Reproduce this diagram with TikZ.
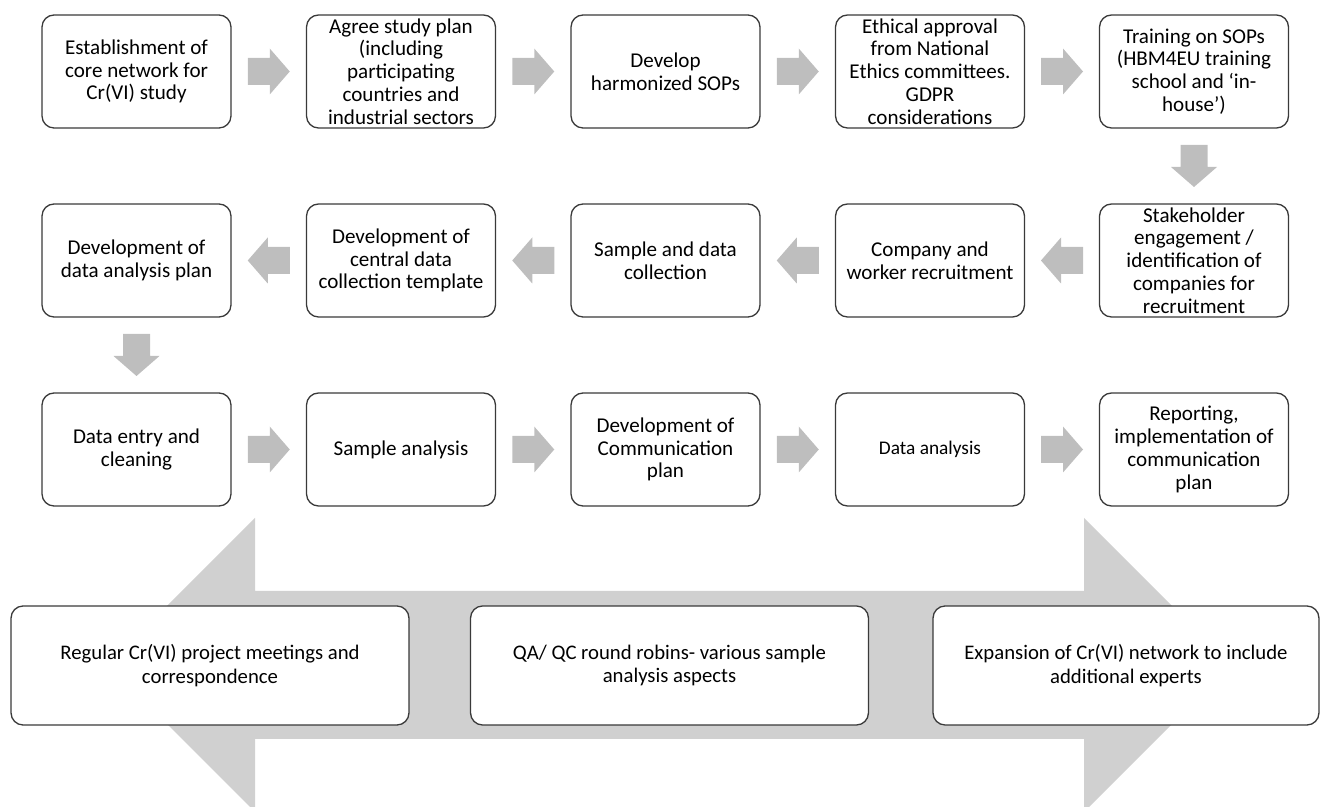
\documentclass[tikz,border=0pt]{standalone}
\usepackage{fontspec}
\setmainfont{Carlito}
\usepackage{tikz}
\usetikzlibrary{calc}
\definecolor{arrowgray}{HTML}{BEBEBE}
\definecolor{bandgray}{HTML}{D0D0D0}
\definecolor{edgegray}{HTML}{3A3A3A}

\tikzset{
    stepbox/.style={draw=edgegray, line width=0.75pt, fill=white, rounded corners=0.24cm,
        minimum width=3.78cm, minimum height=2.26cm, inner sep=0pt, align=center,
        font=\fontsize{12}{13}\selectfont},
    supportbox/.style={stepbox, minimum width=7.96cm, minimum height=2.38cm,
        font=\fontsize{11.8}{13.2}\selectfont},
    blockarrow/.pic={
        \fill[arrowgray] (-21,-13.5) -- (1,-13.5) -- (1,-23) -- (21,0) -- (1,23) -- (1,13.5) -- (-21,13.5) -- cycle;
    }
}

\begin{document}
\begin{tikzpicture}[x=0.02cm, y=-0.02cm]

    \useasboundingbox (0,0) rectangle (1320,807);

    \fill[bandgray] (108,665) -- (255,518) -- (255,591) -- (1084,591) -- (1084,518) -- (1231,665)
        -- (1084,812) -- (1084,739) -- (255,739) -- (255,812) -- cycle;

    \node[stepbox] (s1) at (136.5,71.5) {Establishment of\\core network for\\Cr(VI) study};
    \node[stepbox] (s2) at (401,71.5) {Agree study plan\\(including\\participating\\countries and\\industrial sectors};
    \node[stepbox] (s3) at (665.5,71.5) {Develop\\harmonized SOPs};
    \node[stepbox] (s4) at (930,71.5) {Ethical approval\\from National\\Ethics committees.\\GDPR\\considerations};
    \node[stepbox] (s5) at (1194,71.5) {Training on SOPs\\(HBM4EU training\\school and ‘in-\\house’)};

    \node[stepbox] (s6) at (1194,260.5) {Stakeholder\\engagement /\\identification of\\companies for\\recruitment};
    \node[stepbox] (s7) at (930,260.5) {Company and\\worker recruitment};
    \node[stepbox] (s8) at (665.5,260.5) {Sample and data\\collection};
    \node[stepbox] (s9) at (401,260.5) {Development of\\central data\\collection template};
    \node[stepbox] (s10) at (136.5,260.5) {Development of\\data analysis plan};

    \node[stepbox] (s11) at (136.5,449.5) {Data entry and\\cleaning};
    \node[stepbox] (s12) at (401,449.5) {Sample analysis};
    \node[stepbox] (s13) at (665.5,449.5) {Development of\\Communication\\plan};
    \node[stepbox, font=\fontsize{11}{13}\selectfont] (s14) at (930,449.5) {Data analysis};
    \node[stepbox] (s15) at (1194,449.5) {Reporting,\\implementation of\\communication\\plan};

    \foreach \a/\b/\r in {s1/s2/0, s2/s3/0, s3/s4/0, s4/s5/0, s5/s6/-90,
        s6/s7/180, s7/s8/180, s8/s9/180, s9/s10/180, s10/s11/-90,
        s11/s12/0, s12/s13/0, s13/s14/0, s14/s15/0}
    {
        \path (\a) -- (\b) coordinate[midway] (mid);
        \pic[rotate=\r] at (mid) {blockarrow};
    }

    \node[supportbox] (m1) at (210,665.5) {Regular Cr(VI) project meetings and\\correspondence};
    \node[supportbox] (m2) at (669.5,665.5) {QA/ QC round robins- various sample\\analysis aspects};
    \node[supportbox, minimum width=7.72cm] (m3) at (1126,665.5) {Expansion of Cr(VI) network to include\\additional experts};

\end{tikzpicture}
\end{document}
